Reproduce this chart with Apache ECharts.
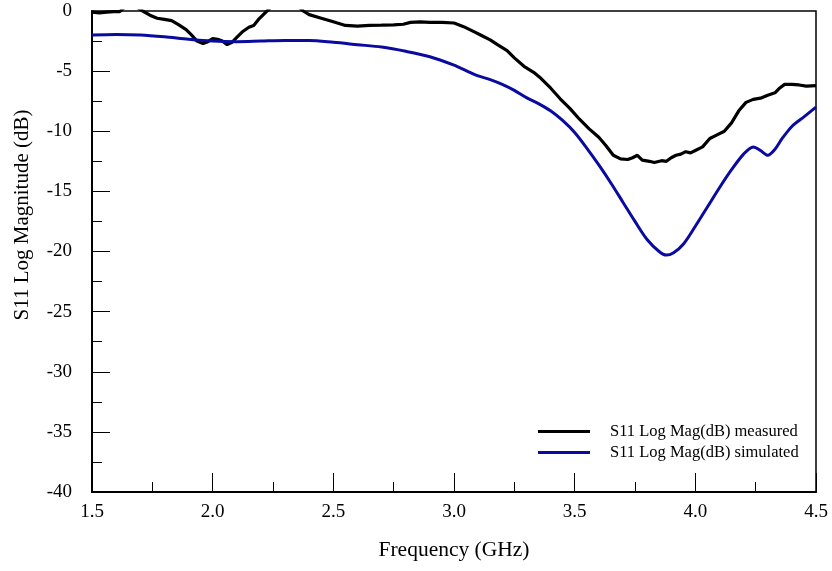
<!DOCTYPE html>
<html>
<head>
<meta charset="UTF-8" />
<script src="https://cdn.jsdelivr.net/npm/echarts@6/dist/echarts.min.js"></script>
<style>
  html, body { margin: 0; padding: 0; background: #fff; }
  #chart { width: 832px; height: 571px; }
</style>
</head>
<body>
<div id="chart"></div>
<script>
// measured S11 (black); values above 0 are clipped by the frame
const measuredFreq = [1.50, 1.53, 1.56, 1.59, 1.615, 1.64, 1.68, 1.71, 1.74, 1.77, 1.80, 1.83, 1.86, 1.89, 1.91,
  1.935, 1.96, 1.98, 2.00, 2.02, 2.04, 2.06, 2.08, 2.10, 2.125, 2.15, 2.17, 2.19, 2.21, 2.225, 2.25, 2.35, 2.375,
  2.40, 2.45, 2.50, 2.55, 2.60, 2.65, 2.70, 2.75, 2.79, 2.82, 2.86, 2.90, 2.95, 3.00, 3.04, 3.08, 3.11, 3.15,
  3.18, 3.22, 3.25, 3.29, 3.33, 3.36, 3.40, 3.44, 3.48, 3.52, 3.56, 3.60, 3.63, 3.66, 3.69, 3.72, 3.74, 3.76,
  3.78, 3.81, 3.83, 3.86, 3.88, 3.90, 3.92, 3.94, 3.96, 3.98, 4.00, 4.03, 4.06, 4.09, 4.12, 4.15, 4.18, 4.21,
  4.24, 4.27, 4.30, 4.33, 4.35, 4.37, 4.40, 4.43, 4.46, 4.50];
const measuredDb = [-0.1, -0.15, -0.1, -0.05, -0.05, 0.4, 0.4, 0.0, -0.35, -0.6, -0.7, -0.8, -1.15, -1.55, -1.95,
  -2.5, -2.7, -2.55, -2.3, -2.35, -2.5, -2.8, -2.6, -2.2, -1.7, -1.35, -1.2, -0.7, -0.3, 0.0, 0.5, 0.5, 0.0,
  -0.3, -0.6, -0.9, -1.2, -1.25, -1.2, -1.18, -1.15, -1.1, -0.95, -0.9, -0.95, -0.95, -1.0, -1.3, -1.7, -2.0, -2.4,
  -2.8, -3.3, -3.9, -4.6, -5.1, -5.6, -6.4, -7.3, -8.1, -9.0, -9.8, -10.5, -11.2, -12.0, -12.3, -12.35, -12.2, -12.0,
  -12.4, -12.5, -12.6, -12.45, -12.5, -12.2, -12.0, -11.9, -11.7, -11.8, -11.6, -11.3, -10.6, -10.3, -10.0, -9.3, -8.3, -7.6,
  -7.35, -7.25, -7.0, -6.8, -6.4, -6.1, -6.1, -6.15, -6.25, -6.2];

// simulated S11 (blue)
const simFreq = [1.50, 1.60, 1.70, 1.80, 1.90, 2.00, 2.10, 2.20, 2.30, 2.40, 2.50, 2.60, 2.70, 2.80, 2.90,
  3.00, 3.05, 3.10, 3.15, 3.20, 3.25, 3.30, 3.35, 3.40, 3.45, 3.50, 3.55, 3.60, 3.65, 3.70, 3.75, 3.80, 3.85,
  3.88, 3.91, 3.95, 4.00, 4.05, 4.10, 4.15, 4.20, 4.24, 4.27, 4.30, 4.33, 4.36, 4.40, 4.45, 4.50];
const simDb = [-2.0, -1.95, -2.0, -2.15, -2.35, -2.5, -2.55, -2.5, -2.45, -2.45, -2.6, -2.8, -3.0, -3.35, -3.8,
  -4.5, -4.95, -5.4, -5.7, -6.1, -6.6, -7.2, -7.7, -8.3, -9.1, -10.1, -11.4, -12.8, -14.3, -15.9, -17.5, -19.0, -20.0,
  -20.3, -20.1, -19.4, -17.9, -16.3, -14.7, -13.2, -11.9, -11.3, -11.6, -12.0, -11.5, -10.6, -9.6, -8.8, -8.0];

const seriesNames = ['S11 Log Mag(dB) measured', 'S11 Log Mag(dB) simulated'];
const yTitle = 'S11 Log Magnitude (dB)';
const xTitle = 'Frequency (GHz)';

const zip = (xs, ys) => xs.map((x, i) => [x, ys[i]]);
const font = 'Liberation Serif';

const chart = echarts.init(document.getElementById('chart'));
chart.setOption({
  animation: false,
  textStyle: { fontFamily: font },
  grid: {
    left: 92, right: 16, top: 11, bottom: 79,
    show: true, borderColor: '#000', borderWidth: 1.5
  },
  // y title sits above the plot centre in the original, so place it by hand
  graphic: [{
    type: 'text',
    x: 22, y: 215,
    rotation: Math.PI / 2,
    style: {
      text: yTitle,
      fontFamily: font, fontSize: 21, fill: '#000',
      align: 'center', verticalAlign: 'middle'
    }
  }],
  legend: {
    data: seriesNames,
    orient: 'vertical',
    left: 533, top: 418,
    icon: 'rect',
    itemWidth: 52, itemHeight: 3,
    itemGap: 4,
    textStyle: { fontFamily: font, fontSize: 16.5, color: '#000', padding: [0, 0, 0, 15] }
  },
  xAxis: {
    type: 'value',
    min: 1.5, max: 4.5, interval: 0.5,
    name: xTitle,
    nameLocation: 'middle', nameGap: 47,
    nameTextStyle: { fontFamily: font, fontSize: 21.5, color: '#000' },
    axisLine: { onZero: false, lineStyle: { color: '#000', width: 2 } },
    axisTick: { inside: true, length: 19, lineStyle: { color: '#000', width: 1 } },
    minorTick: { show: true, splitNumber: 2, length: 10, lineStyle: { color: '#000', width: 1 } },
    axisLabel: { fontFamily: font, fontSize: 19, color: '#000', margin: 11, formatter: v => v.toFixed(1) },
    splitLine: { show: false }
  },
  yAxis: {
    type: 'value',
    min: -40, max: 0, interval: 5,
    axisLine: { show: true, onZero: false, lineStyle: { color: '#000', width: 2 } },
    axisTick: { inside: true, length: 18, lineStyle: { color: '#000', width: 1 } },
    minorTick: { show: true, splitNumber: 2, length: 10, lineStyle: { color: '#000', width: 1 } },
    axisLabel: { fontFamily: font, fontSize: 19, color: '#000', margin: 20 },
    splitLine: { show: false }
  },
  series: [
    {
      name: seriesNames[0],
      type: 'line',
      data: zip(measuredFreq, measuredDb),
      showSymbol: false,
      clip: true,
      color: '#000',
      lineStyle: { color: '#000', width: 3.2 }
    },
    {
      name: seriesNames[1],
      type: 'line',
      data: zip(simFreq, simDb),
      showSymbol: false,
      smooth: 0.3,
      clip: true,
      color: '#0a0aa0',
      lineStyle: { color: '#0a0aa0', width: 3 }
    }
  ]
});
</script>
</body>
</html>
